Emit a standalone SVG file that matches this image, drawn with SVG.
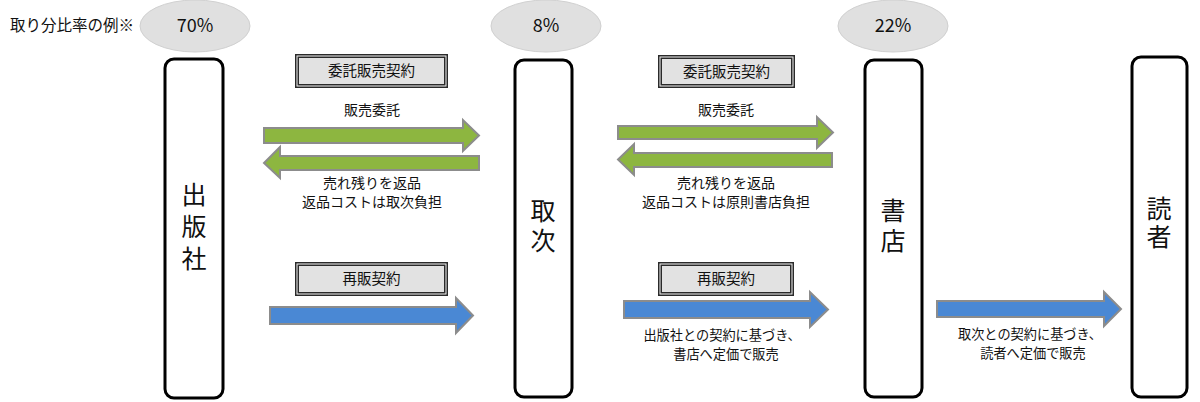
<svg xmlns="http://www.w3.org/2000/svg" width="1200" height="402" viewBox="0 0 1200 402">
<style>
text{font-family:"Noto Sans CJK JP","Liberation Sans",sans-serif;fill:#111;}
.pct{font-size:18px;text-anchor:middle;}
.node{fill:#fff;stroke:#000;stroke-width:3;}
.nt{font-size:25px;text-anchor:middle;writing-mode:vertical-rl;}
.cb{fill:#e2e2e2;stroke:#2a2a2a;stroke-width:4;}
.cbi{fill:none;stroke:#f4f4f4;stroke-width:1;}
.ct{font-size:14.5px;text-anchor:middle;}
.lbl{font-size:14px;text-anchor:middle;}
.lbl2{font-size:13.2px;text-anchor:middle;}
.ell{fill:#e0e0e0;stroke:#d0d0d0;stroke-width:1;}
.g{fill:#8db640;stroke:#8c8c8c;stroke-width:2;}
.b{fill:#4a88d4;stroke:#8c8c8c;stroke-width:2;}
</style>
<rect width="1200" height="402" fill="#fff"/>
<text x="10" y="31" style="font-size:15.5px">取り分比率の例※</text>
<g id="ratios">
<ellipse class="ell" cx="195" cy="26" rx="55" ry="26"/>
<text class="pct" x="195" y="32">70%</text>
<ellipse class="ell" cx="546" cy="26" rx="55" ry="26"/>
<text class="pct" x="546" y="32">8%</text>
<ellipse class="ell" cx="893" cy="26" rx="55" ry="26"/>
<text class="pct" x="893" y="32">22%</text>
</g>
<g id="node-publisher">
<rect class="node" x="165" y="59" width="58" height="339" rx="9"/>
<text class="nt" x="194" y="230" letter-spacing="7">出版社</text>
</g>
<g id="node-distributor">
<rect class="node" x="515" y="60" width="57" height="337" rx="9"/>
<text class="nt" x="543" y="228" letter-spacing="5">取次</text>
</g>
<g id="node-bookstore">
<rect class="node" x="865" y="60" width="57" height="337" rx="9"/>
<text class="nt" x="893" y="228" letter-spacing="5">書店</text>
</g>
<g id="node-reader">
<rect class="node" x="1132" y="57" width="55" height="340" rx="9"/>
<text class="nt" x="1159" y="224" letter-spacing="3">読者</text>
</g>
<g id="connectors">
<g id="contract-1">
<rect class="cb" x="297" y="56" width="149" height="30"/>
<rect class="cbi" x="297" y="56" width="149" height="30"/>
<text class="ct" x="371.5" y="76">委託販売契約</text>
</g>
<text class="lbl" x="372" y="115">販売委託</text>
<polygon class="g" points="264,128 463,128 463,120 479,135.5 463,151 463,143 264,143"/>
<polygon class="g" points="479,156 280,156 280,147 264,163 280,178 280,170 479,170"/>
<text class="lbl" x="372" y="188">売れ残りを返品</text>
<text class="lbl" x="372" y="207">返品コストは取次負担</text>
<g id="contract-2">
<rect class="cb" x="660" y="57" width="133" height="29"/>
<rect class="cbi" x="660" y="57" width="133" height="29"/>
<text class="ct" x="726.5" y="76.5">委託販売契約</text>
</g>
<text class="lbl" x="726" y="115">販売委託</text>
<polygon class="g" points="618,126 817,126 817,117 833,132.5 817,148 817,139 618,139"/>
<polygon class="g" points="832,153 634,153 634,144 618,159.5 634,175 634,167 832,167"/>
<text class="lbl" x="726" y="188">売れ残りを返品</text>
<text class="lbl" x="726" y="207">返品コストは原則書店負担</text>
<g id="contract-3">
<rect class="cb" x="297" y="264" width="149" height="30"/>
<rect class="cbi" x="297" y="264" width="149" height="30"/>
<text class="ct" x="371.5" y="284">再販契約</text>
</g>
<polygon class="b" points="270,307 456,307 456,298 473,315.5 456,333 456,324 270,324"/>
<g id="contract-4">
<rect class="cb" x="660" y="264" width="132" height="30"/>
<rect class="cbi" x="660" y="264" width="132" height="30"/>
<text class="ct" x="726" y="284">再販契約</text>
</g>
<polygon class="b" points="624,301 810,301 810,292 828,309.5 810,327 810,318 624,318"/>
<text class="lbl2" x="722" y="340">出版社との契約に基づき、</text>
<text class="lbl2" x="726" y="359">書店へ定価で販売</text>
<polygon class="b" points="937,301 1104,301 1104,292 1121,309 1104,326 1104,317 937,317"/>
<text class="lbl2" x="1030" y="339">取次との契約に基づき、</text>
<text class="lbl2" x="1033" y="358">読者へ定価で販売</text>
</g>
</svg>
